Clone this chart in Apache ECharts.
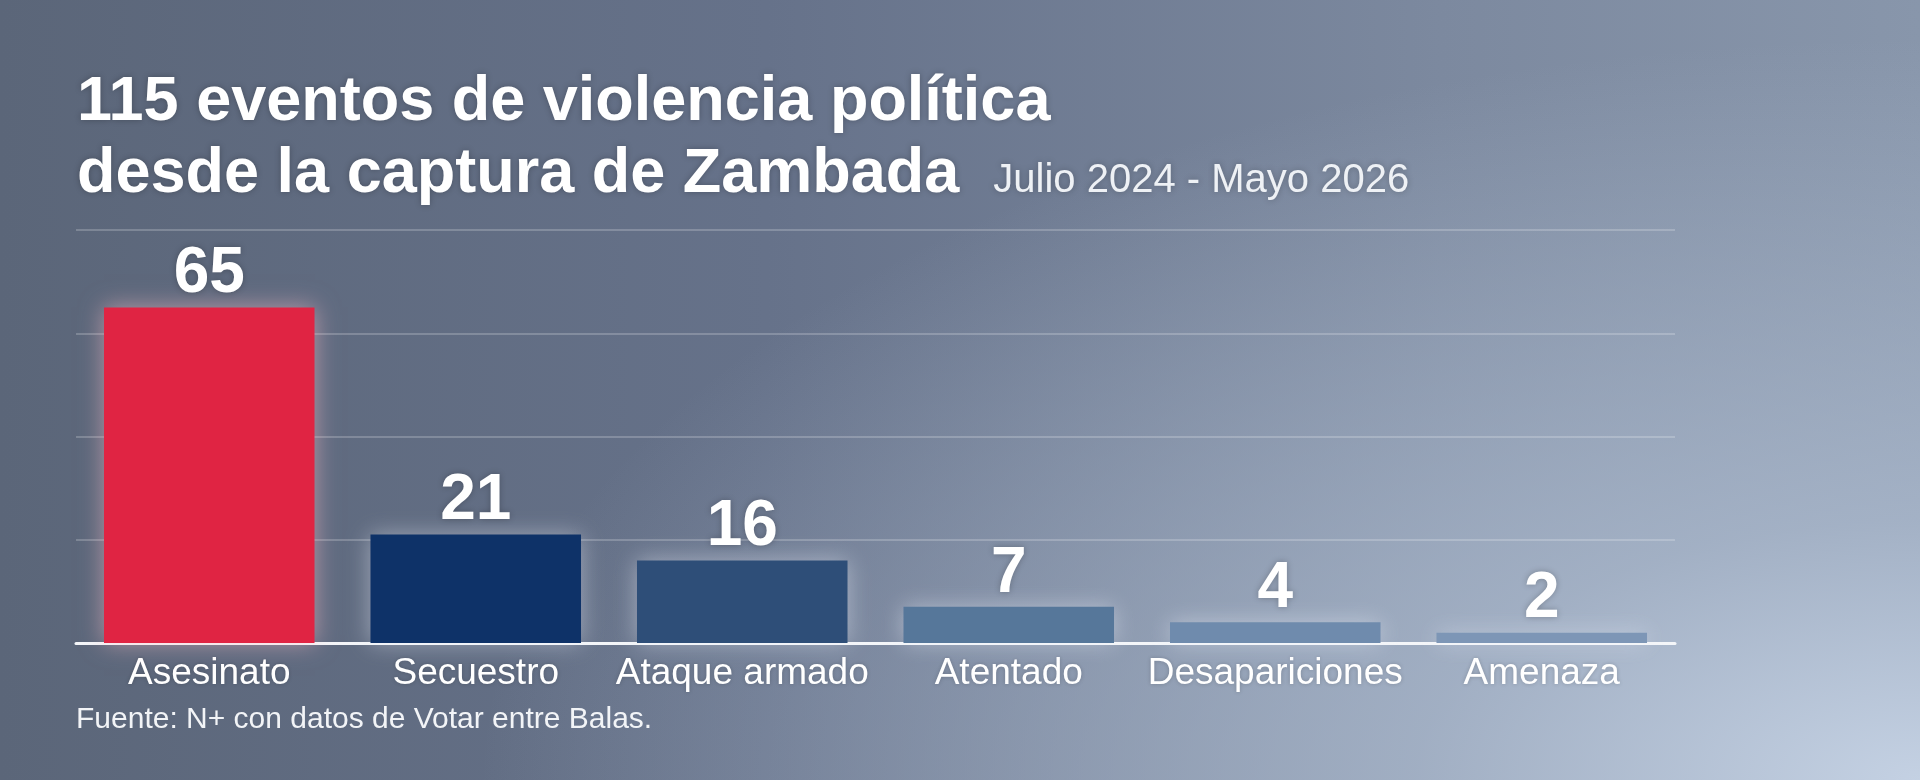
<!DOCTYPE html>
<html>
<head>
<meta charset="utf-8">
<script src="https://cdn.jsdelivr.net/npm/echarts@6/dist/echarts.min.js"></script>
<style>
  html, body { margin: 0; padding: 0; }
  body {
    width: 1920px; height: 780px; overflow: hidden;
    background:
      radial-gradient(ellipse 75% 95% at 100% 100%, rgba(196,209,227,1) 0%, rgba(170,184,204,0.8) 35%, rgba(140,155,178,0) 100%),
      linear-gradient(to right, #5b6679 0%, #66728a 40%, #7c899f 75%, #8896ab 100%);
  }
  #chart { width: 1920px; height: 780px; }
</style>
</head>
<body>
<div id="chart"></div>
<script>
// datos del gráfico
const categories = ['Asesinato', 'Secuestro', 'Ataque armado', 'Atentado', 'Desapariciones', 'Amenaza'];
const values = [65, 21, 16, 7, 4, 2];
const barColors = ['#e02443', '#0e3268', '#2e4e78', '#56779a', '#6f8bad', '#7d96b6'];
const titleLines = ['115 eventos de violencia política', 'desde la captura de Zambada'];
const subtitle = 'Julio 2024 - Mayo 2026';
const source = 'Fuente: N+ con datos de Votar entre Balas.';

const chart = echarts.init(document.getElementById('chart'), null, { renderer: 'canvas' });

const FONT = '"Liberation Sans", Arial, sans-serif';

const option = {
  backgroundColor: 'transparent',
  animation: false,
  title: {
    left: 72,
    top: 62,
    text: titleLines[0] + '\n' + titleLines[1] + '{sub|' + subtitle + '}',
    textStyle: {
      color: '#ffffff',
      fontFamily: FONT,
      fontWeight: 'bold',
      fontSize: 63,
      lineHeight: 72,
      textShadowColor: 'rgba(0,0,0,0.25)',
      textShadowBlur: 6,
      rich: {
        sub: {
          color: '#eef1f5',
          fontFamily: FONT,
          fontWeight: 'normal',
          fontSize: 40,
          lineHeight: 72,
          padding: [12, 0, 0, 34]
        }
      }
    }
  },
  grid: {
    left: 76,
    right: 245,
    top: 230,
    bottom: 137,
    containLabel: false
  },
  xAxis: {
    type: 'category',
    data: categories,
    axisLine: { lineStyle: { color: '#f4f6f9', width: 3 } },
    axisTick: { show: false },
    axisLabel: {
      interval: 0,
      color: '#ffffff',
      fontFamily: FONT,
      fontSize: 37,
      margin: 12,
      textShadowColor: 'rgba(0,0,0,0.2)',
      textShadowBlur: 4
    }
  },
  yAxis: {
    type: 'value',
    min: 0,
    max: 80,
    interval: 20,
    axisLabel: { show: false },
    axisLine: { show: false },
    axisTick: { show: false },
    splitLine: { lineStyle: { color: 'rgba(255,255,255,0.28)', width: 1.5 } }
  },
  series: [
    {
      type: 'bar',
      barWidth: '79%',
      data: values.map((v, i) => ({
        value: v,
        itemStyle: {
          color: barColors[i],
          shadowColor: i === 0 ? 'rgba(255,190,200,0.55)' : 'rgba(235,240,250,0.45)',
          shadowBlur: 22
        }
      })),
      label: {
        show: true,
        position: 'top',
        distance: 1,
        color: '#ffffff',
        fontFamily: FONT,
        fontWeight: 'bold',
        fontSize: 64,
        textShadowColor: 'rgba(0,0,0,0.25)',
        textShadowBlur: 6
      }
    }
  ],
  graphic: [
    {
      type: 'text',
      left: 76,
      top: 705,
      style: {
        text: source,
        fill: '#f2f4f7',
        font: '30px ' + FONT
      }
    }
  ]
};

chart.setOption(option);
</script>
</body>
</html>
